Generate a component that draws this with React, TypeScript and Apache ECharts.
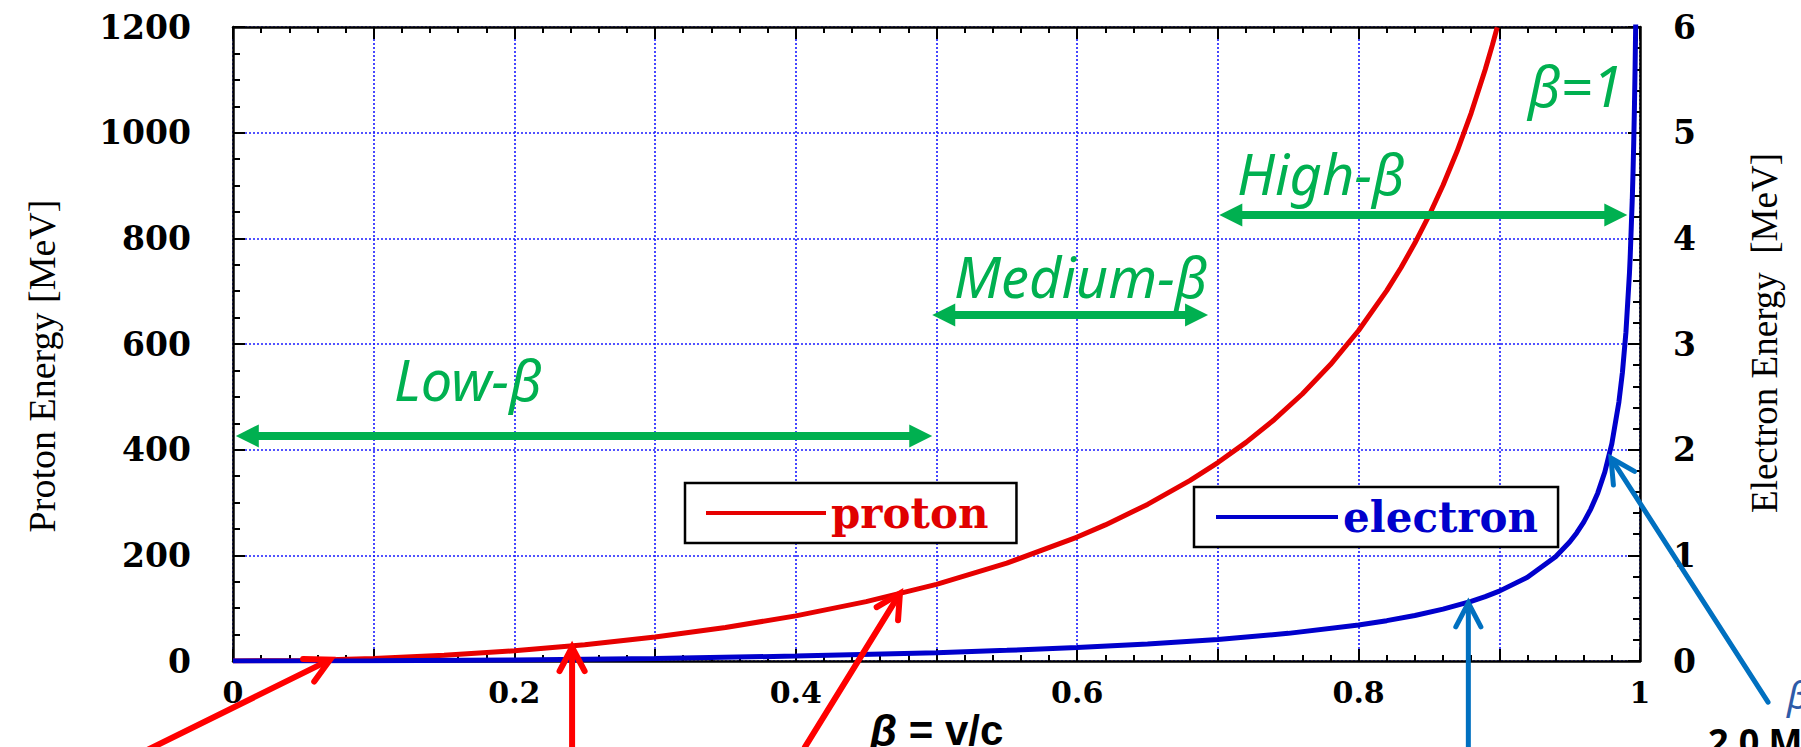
import React, { useEffect, useRef } from 'react';
import * as echarts from 'echarts';

// ---- data ----
const betaProton = [0, 0.05, 0.1, 0.15, 0.2, 0.25, 0.3, 0.35, 0.4, 0.45, 0.5, 0.55, 0.6, 0.62, 0.65, 0.68, 0.7, 0.72, 0.74, 0.76, 0.78, 0.8, 0.82, 0.83, 0.84, 0.85, 0.86, 0.87, 0.88, 0.89, 0.895, 0.8985];
const protonEnergy = [0, 1.17, 4.73, 10.74, 19.35, 30.77, 45.3, 63.35, 85.47, 112.39, 145.15, 185.19, 234.57, 257.58, 296.4, 341.4, 375.57, 413.75, 456.7, 505.39, 561.09, 625.51, 701.03, 743.93, 790.99, 842.86, 900.42, 964.72, 1037.15, 1119.53, 1165.16, 1199.15];

const betaElectron = [0, 0.1, 0.2, 0.3, 0.4, 0.5, 0.55, 0.6, 0.65, 0.7, 0.75, 0.8, 0.82, 0.84, 0.86, 0.88, 0.89, 0.9, 0.92, 0.94, 0.95, 0.955, 0.96, 0.965, 0.97, 0.975, 0.98, 0.985, 0.9875, 0.99, 0.9925, 0.993, 0.9945, 0.995, 0.9955, 0.996, 0.9965, 0.9969, 0.997];
const electronEnergy = [0, 0.0026, 0.0105, 0.0247, 0.0465, 0.0791, 0.1009, 0.1278, 0.1614, 0.2045, 0.2616, 0.3407, 0.3818, 0.4308, 0.4904, 0.5649, 0.6097, 0.6613, 0.7928, 0.9868, 1.1255, 1.2118, 1.314, 1.4375, 1.591, 1.7887, 2.0569, 2.4504, 2.731, 3.1114, 3.6691, 3.8153, 4.3679, 4.6054, 4.8815, 5.2079, 5.602, 5.9838, 6.0909];

const xTickLabels = ['0', '0.2', '0.4', '0.6', '0.8', '1'];
const protonTickLabels = ['0', '200', '400', '600', '800', '1000', '1200'];
const electronTickLabels = ['0', '1', '2', '3', '4', '5', '6'];

// region arrows (beta range, proton-axis height)
const regionNames = ['Low-β', 'Medium-β', 'High-β'];
const regionFrom = [[0.002, 426], [0.497, 655], [0.701, 844]];
const regionTo = [[0.497, 426], [0.693, 655], [0.991, 844]];
const regionLabelAt = [[0.1144, 534], [0.5124, 728], [0.7136, 924]];
const betaOneLabelAt = [0.9204, 1091];

// pointer arrows (tail -> tip), proton axis
const redTails = [[-0.075, -187], [0.241, -190], [0.4065, -163]];
const redTips = [[0.069, 2.5], [0.241, 26], [0.474, 128]];
// pointer arrows, electron axis
const blueTails = [[0.878, -0.95], [1.091, -0.39]];
const blueTips = [[0.878, 0.55], [0.9794, 1.92]];

const GREEN = '#00B050';

export default function App() {
  const ref = useRef<HTMLDivElement>(null);

  useEffect(() => {
    if (!ref.current) return;
    const chart = echarts.init(ref.current, undefined, { renderer: 'svg' });

    const tickFont = { fontFamily: '"DejaVu Serif", serif', fontWeight: 'bold' as const, fontSize: 33, color: '#000' };
    const axisLineStyle = { color: '#000', width: 2.5 };
    const gridLine = { color: '#1a1aff', width: 1.6, type: [2, 2] };
    const xCommon = {
      type: 'value' as const,
      min: 0,
      max: 1,
      interval: 0.1,
      axisLine: { show: true, onZero: false, lineStyle: axisLineStyle },
      axisTick: { show: true, inside: true, length: 12, lineStyle: { color: '#000', width: 2 } },
      minorTick: { show: true, splitNumber: 5, length: 6, lineStyle: { color: '#000', width: 2 } },
    };

    const option: any = {
      animation: false,
      backgroundColor: '#fff',
      grid: { left: 233, right: 161, top: 27, bottom: 86, containLabel: false, outerBoundsMode: 'none' },
      xAxis: [
        {
          ...xCommon,
          position: 'bottom',
          name: '{b|β} = v/c',
          nameLocation: 'middle',
          nameGap: 47,
          nameMoveOverlap: false,
          nameTextStyle: {
            fontFamily: '"Liberation Sans", Arial, sans-serif',
            fontWeight: 'bold',
            fontSize: 42,
            color: '#000',
            rich: {
              b: { fontFamily: '"Liberation Sans", Arial, sans-serif', fontStyle: 'italic', fontWeight: 'bold', fontSize: 44, color: '#000' },
            },
          },
          axisLabel: {
            ...tickFont,
            fontSize: 30,
            margin: 16,
            formatter: (_v: number, i: number) => (i % 2 === 0 ? xTickLabels[i / 2] : ''),
          },
          splitLine: { show: true, lineStyle: gridLine },
        },
        {
          ...xCommon,
          position: 'top',
          axisLabel: { show: false },
          splitLine: { show: false },
        },
      ],
      yAxis: [
        {
          type: 'value',
          position: 'left',
          min: 0,
          max: 1200,
          interval: 200,
          name: 'Proton Energy [MeV]',
          nameLocation: 'middle',
          nameGap: 172,
          nameMoveOverlap: false,
          nameTextStyle: { fontFamily: '"Liberation Serif", "Times New Roman", serif', fontSize: 38, color: '#000', padding: [0, 44, 0, 0] },
          axisLine: { show: true, onZero: false, lineStyle: axisLineStyle },
          axisTick: { show: true, inside: true, length: 12, lineStyle: { color: '#000', width: 2 } },
          minorTick: { show: true, splitNumber: 4, length: 7, lineStyle: { color: '#000', width: 2 } },
          axisLabel: { ...tickFont, margin: 42, formatter: (_v: number, i: number) => protonTickLabels[i] },
          splitLine: { show: true, lineStyle: gridLine },
        },
        {
          type: 'value',
          position: 'right',
          min: 0,
          max: 6,
          interval: 1,
          name: 'Electron Energy  [MeV]',
          nameLocation: 'middle',
          nameGap: 106,
          nameMoveOverlap: false,
          nameTextStyle: { fontFamily: '"Liberation Serif", "Times New Roman", serif', fontSize: 37, color: '#000', padding: [0, 0, 0, 22] },
          axisLine: { show: true, onZero: false, lineStyle: axisLineStyle },
          axisTick: { show: true, inside: true, length: 12, lineStyle: { color: '#000', width: 2 } },
          minorTick: { show: true, splitNumber: 5, length: 7, lineStyle: { color: '#000', width: 2 } },
          axisLabel: { ...tickFont, margin: 33, formatter: (_v: number, i: number) => electronTickLabels[i] },
          splitLine: { show: false },
        },
      ],
      legend: [
        {
          data: ['proton'],
          left: 685,
          top: 483,
          orient: 'horizontal',
          selectedMode: false,
          icon: 'rect',
          itemWidth: 120,
          itemHeight: 4,
          padding: [9, 28, 9, 21],
          borderColor: '#000',
          borderWidth: 2.5,
          backgroundColor: '#fff',
          textStyle: { fontFamily: '"DejaVu Serif", serif', fontWeight: 'bold', fontSize: 42, color: '#e00000' },
        },
        {
          data: ['electron'],
          left: 1194,
          top: 487,
          orient: 'horizontal',
          selectedMode: false,
          icon: 'rect',
          itemWidth: 122,
          itemHeight: 4,
          padding: [9, 20, 9, 22],
          borderColor: '#000',
          borderWidth: 2.5,
          backgroundColor: '#fff',
          textStyle: { fontFamily: '"DejaVu Serif", serif', fontWeight: 'bold', fontSize: 42, color: '#0000cc' },
        },
      ],
      series: [
        {
          name: 'proton',
          type: 'line',
          xAxisIndex: 0,
          yAxisIndex: 0,
          showSymbol: false,
          clip: true,
          z: 3,
          lineStyle: { color: '#e60000', width: 5 },
          itemStyle: { color: '#e60000' },
          data: betaProton.map((b, i) => [b, protonEnergy[i]]),
        },
        {
          name: 'electron',
          type: 'line',
          xAxisIndex: 0,
          yAxisIndex: 1,
          showSymbol: false,
          clip: true,
          z: 3,
          lineStyle: { color: '#0000cc', width: 5 },
          itemStyle: { color: '#0000cc' },
          data: betaElectron.map((b, i) => [b, electronEnergy[i]]),
        },
      ],
    };

    chart.setOption(option);

    const toPx = (s: number, v: number[]) => chart.convertToPixel({ seriesIndex: s }, v) as unknown as number[];

    const graphics: any[] = [];

    const doubleArrow = (a: number[], b: number[]) => {
      const dx = b[0] - a[0], dy = b[1] - a[1];
      const len = Math.hypot(dx, dy);
      const ux = dx / len, uy = dy / len;
      const nx = -uy, ny = ux;
      const L = 23, W = 23;
      graphics.push({
        type: 'line', z: 20,
        shape: { x1: a[0] + ux * (L - 2), y1: a[1] + uy * (L - 2), x2: b[0] - ux * (L - 2), y2: b[1] - uy * (L - 2) },
        style: { stroke: GREEN, lineWidth: 8 },
      });
      const tri = (tip: number[], dirx: number, diry: number) => [
        [tip[0], tip[1]],
        [tip[0] - dirx * L + nx * W / 2, tip[1] - diry * L + ny * W / 2],
        [tip[0] - dirx * L - nx * W / 2, tip[1] - diry * L - ny * W / 2],
      ];
      graphics.push({ type: 'polygon', z: 20, shape: { points: tri(b, ux, uy) }, style: { fill: GREEN } });
      graphics.push({ type: 'polygon', z: 20, shape: { points: tri(a, -ux, -uy) }, style: { fill: GREEN } });
    };

    const openArrow = (t: number[], p: number[], color: string, w: number) => {
      const dx = p[0] - t[0], dy = p[1] - t[1];
      const len = Math.hypot(dx, dy);
      const bx = -dx / len, by = -dy / len;
      const H = 27, ang = Math.PI / 6.5;
      const c = Math.cos(ang), s = Math.sin(ang);
      const h1 = [p[0] + H * (bx * c - by * s), p[1] + H * (bx * s + by * c)];
      const h2 = [p[0] + H * (bx * c + by * s), p[1] + H * (-bx * s + by * c)];
      graphics.push({
        type: 'line', z: 20,
        shape: { x1: t[0], y1: t[1], x2: p[0] + bx * 2, y2: p[1] + by * 2 },
        style: { stroke: color, lineWidth: w, lineCap: 'round' },
      });
      graphics.push({
        type: 'polyline', z: 20,
        shape: { points: [h1, p, h2] },
        style: { stroke: color, lineWidth: w, fill: 'none', lineCap: 'round', lineJoin: 'miter' },
      });
    };

    regionFrom.forEach((f, i) => doubleArrow(toPx(0, f), toPx(0, regionTo[i])));

    const greenFont = 'italic 56px "Noto Sans", "Open Sans", sans-serif';
    regionNames.forEach((n, i) => {
      const p = toPx(0, regionLabelAt[i]);
      graphics.push({ type: 'text', z: 21, x: p[0], y: p[1], style: { text: n, fill: GREEN, font: greenFont, align: 'left', verticalAlign: 'middle' } });
    });
    {
      const p = toPx(0, betaOneLabelAt);
      graphics.push({ type: 'text', z: 21, x: p[0], y: p[1], style: { text: 'β=1', fill: GREEN, font: greenFont, align: 'left', verticalAlign: 'middle' } });
    }

    redTails.forEach((t, i) => openArrow(toPx(0, t), toPx(0, redTips[i]), '#ff0000', 6));
    blueTails.forEach((t, i) => openArrow(toPx(1, t), toPx(1, blueTips[i]), '#0070c0', 5));

    // partially visible annotation at the bottom-right corner
    {
      const pb = toPx(0, [1.1045, -62]);
      graphics.push({ type: 'text', z: 21, x: pb[0], y: pb[1], style: { text: 'β', fill: '#2e5ba8', font: 'italic 38px "Noto Sans", sans-serif', align: 'left', verticalAlign: 'middle' } });
      const pm = toPx(0, [1.0483, -152]);
      graphics.push({ type: 'text', z: 21, x: pm[0], y: pm[1], style: { text: '2.0 MeV', fill: '#000', font: 'bold 36px "Noto Sans", sans-serif', align: 'left', verticalAlign: 'middle' } });
    }

    chart.setOption({ graphic: graphics });

    return () => chart.dispose();
  }, []);

  return <div ref={ref} style={{ position: 'fixed', left: 0, top: 0, width: 1801, height: 747 }} />;
}
